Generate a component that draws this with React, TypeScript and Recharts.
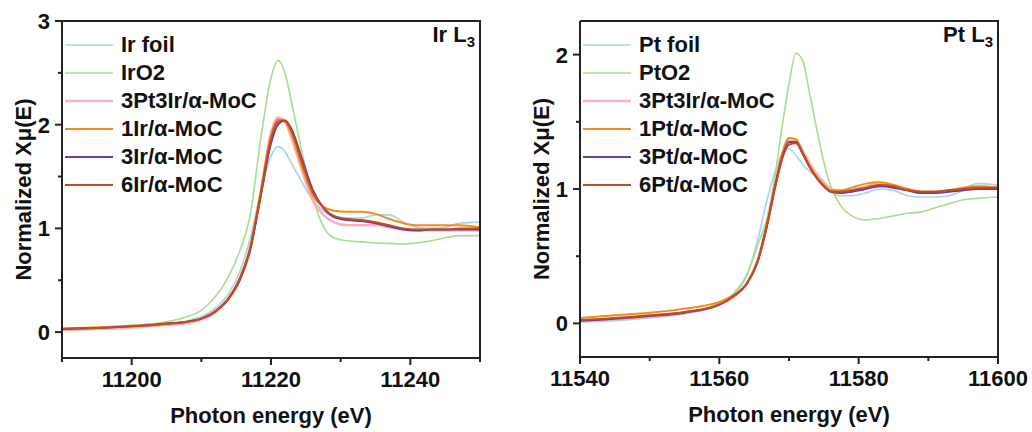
import React from "react";
import { LineChart, Line, XAxis, YAxis, Legend, Label } from "recharts";

// ---- Ir L3 edge ----
const irEnergy = [11190, 11195, 11200, 11205, 11208, 11210, 11212, 11214, 11215.5, 11217, 11218.5, 11220, 11221, 11222, 11223, 11224.5, 11226, 11227.5, 11229, 11231, 11233, 11235, 11237, 11239, 11241, 11243, 11245, 11247, 11250];
const irFoil = [0.03, 0.04, 0.055, 0.08, 0.11, 0.15, 0.23, 0.38, 0.58, 0.9, 1.35, 1.7, 1.79, 1.74, 1.62, 1.44, 1.27, 1.17, 1.12, 1.1, 1.1, 1.13, 1.13, 1.06, 1.01, 1.0, 1.01, 1.05, 1.06];
const irO2 = [0.03, 0.045, 0.065, 0.1, 0.15, 0.21, 0.34, 0.55, 0.78, 1.12, 1.85, 2.45, 2.62, 2.5, 2.2, 1.72, 1.3, 1.02, 0.91, 0.88, 0.87, 0.86, 0.855, 0.85, 0.86, 0.88, 0.91, 0.93, 0.93];
const irPt3Ir3 = [0.02, 0.03, 0.045, 0.07, 0.09, 0.12, 0.19, 0.33, 0.5, 0.8, 1.33, 1.92, 2.07, 2.03, 1.86, 1.55, 1.27, 1.13, 1.06, 1.03, 1.03, 1.03, 1.01, 0.99, 0.98, 0.98, 0.98, 0.98, 0.98];
const ir1 = [0.035, 0.045, 0.06, 0.085, 0.1, 0.13, 0.2, 0.34, 0.52, 0.82, 1.35, 1.9, 2.05, 2.03, 1.9, 1.58, 1.32, 1.21, 1.17, 1.16, 1.16, 1.14, 1.09, 1.05, 1.03, 1.03, 1.03, 1.03, 1.01];
const ir3 = [0.03, 0.04, 0.055, 0.08, 0.1, 0.13, 0.2, 0.33, 0.5, 0.79, 1.3, 1.82, 2.0, 2.04, 1.95, 1.66, 1.37, 1.2, 1.11, 1.08, 1.07, 1.05, 1.02, 0.99, 0.98, 0.99, 0.99, 0.99, 0.99];
const ir6 = [0.03, 0.04, 0.055, 0.08, 0.1, 0.13, 0.2, 0.33, 0.51, 0.8, 1.32, 1.86, 2.03, 2.04, 1.93, 1.63, 1.35, 1.2, 1.12, 1.09, 1.08, 1.06, 1.03, 1.0, 0.99, 0.99, 0.99, 1.0, 1.0];
const irNames = ["Ir foil", "IrO2", "3Pt3Ir/α-MoC", "1Ir/α-MoC", "3Ir/α-MoC", "6Ir/α-MoC"];
const irXTicks = [11190, 11200, 11210, 11220, 11230, 11240, 11250];
const irXMajor = [11200, 11220, 11240];
const irYTicks = [0, 0.5, 1, 1.5, 2, 2.5, 3];
const irYMajor = [0, 1, 2, 3];

// ---- Pt L3 edge ----
const ptEnergy = [11540, 11545, 11550, 11555, 11560, 11562, 11564, 11565.5, 11567, 11568, 11569, 11570, 11571, 11572, 11573, 11574, 11575, 11576, 11577.5, 11579, 11581, 11583, 11585, 11587, 11589, 11591, 11593, 11595, 11597, 11600];
const ptFoil = [0.01, 0.02, 0.04, 0.07, 0.14, 0.21, 0.36, 0.62, 0.95, 1.13, 1.26, 1.3, 1.25, 1.18, 1.13, 1.09, 1.04, 0.98, 0.95, 0.95, 0.97, 1.0, 0.99, 0.95, 0.94, 0.94, 0.95, 0.99, 1.04, 1.03];
const ptO2 = [0.02, 0.03, 0.05, 0.08, 0.15, 0.22, 0.37, 0.58, 0.82, 1.1, 1.46, 1.78, 2.01, 1.95, 1.7, 1.44, 1.2, 1.02, 0.87, 0.8, 0.77, 0.78, 0.8, 0.82, 0.83, 0.86, 0.89, 0.92, 0.93, 0.94];
const ptPt3Ir3 = [0.02, 0.035, 0.05, 0.08, 0.14, 0.2, 0.3, 0.47, 0.78, 1.03, 1.25, 1.36, 1.36, 1.28, 1.19, 1.11, 1.05, 1.0, 0.98, 0.99, 1.02, 1.04, 1.03, 1.0, 0.98, 0.98, 0.99, 1.0, 1.01, 1.01];
const pt1 = [0.04, 0.06, 0.08, 0.11, 0.16, 0.21, 0.3, 0.47, 0.78, 1.03, 1.26, 1.38, 1.37, 1.27, 1.17, 1.09, 1.03, 0.99, 0.99, 1.01, 1.04, 1.05, 1.03, 1.0, 0.98, 0.98, 0.99, 1.01, 1.02, 1.01];
const pt3 = [0.02, 0.035, 0.055, 0.08, 0.14, 0.2, 0.3, 0.46, 0.77, 1.02, 1.23, 1.35, 1.35, 1.26, 1.16, 1.08, 1.02, 0.98, 0.97, 0.98, 1.0, 1.02, 1.01, 0.99, 0.97, 0.97, 0.98, 0.99, 1.0, 1.0];
const pt6 = [0.025, 0.04, 0.06, 0.085, 0.14, 0.2, 0.3, 0.46, 0.76, 1.01, 1.22, 1.33, 1.34, 1.26, 1.16, 1.08, 1.02, 0.98, 0.98, 0.99, 1.01, 1.03, 1.02, 0.99, 0.98, 0.98, 0.99, 1.0, 1.01, 1.01];
const ptNames = ["Pt foil", "PtO2", "3Pt3Ir/α-MoC", "1Pt/α-MoC", "3Pt/α-MoC", "6Pt/α-MoC"];
const ptXTicks = [11540, 11550, 11560, 11570, 11580, 11590, 11600];
const ptXMajor = [11540, 11560, 11580, 11600];
const ptYTicks = [0, 0.5, 1, 1.5, 2];
const ptYMajor = [0, 1, 2];

const colors = ["#a6d2ee", "#a9dc8c", "#f8b2bf", "#f28b1e", "#6c3b9e", "#c24c1a"];
const widths = [1.6, 1.6, 2.6, 2, 2, 2];

const FONT = "Arial, 'Liberation Sans', sans-serif";
const INK = "#111";
const AXIS = "#222";

type PanelProps = {
  energy: number[];
  series: number[][];
  names: string[];
  xDomain: [number, number];
  yDomain: [number, number];
  xTicks: number[];
  xMajor: number[];
  yTicks: number[];
  yMajor: number[];
  yAxisWidth: number;
  rightMargin: number;
  xAxisHeight: number;
  edge: string;
};

const makeXTick = (major: number[]) => (props: any) => {
  const { x, y, payload } = props;
  const isMajor = major.includes(payload.value);
  return (
    <g>
      <line x1={x} y1={y} x2={x} y2={y + (isMajor ? 7 : 4)} stroke={AXIS} strokeWidth={2} />
      {isMajor && (
        <text x={x} y={y + 29} textAnchor="middle" fontSize={22} fontWeight="bold" fill={INK} fontFamily={FONT}>
          {payload.value}
        </text>
      )}
    </g>
  );
};

const makeYTick = (major: number[]) => (props: any) => {
  const { x, y, payload } = props;
  const isMajor = major.includes(payload.value);
  return (
    <g>
      <line x1={x} y1={y} x2={x - (isMajor ? 7 : 4)} y2={y} stroke={AXIS} strokeWidth={2} />
      {isMajor && (
        <text x={x - 12} y={y + 8} textAnchor="end" fontSize={22} fontWeight="bold" fill={INK} fontFamily={FONT}>
          {payload.value}
        </text>
      )}
    </g>
  );
};

function Panel(p: PanelProps) {
  const W = 516;
  const H = 432;
  const top = 21;
  const plotLeft = p.yAxisWidth;
  const plotRight = W - p.rightMargin;
  const plotBottom = H - p.xAxisHeight;
  const rows = p.energy.map((e, i) => {
    const r: any = { e };
    p.series.forEach((s, k) => (r["s" + k] = s[i]));
    return r;
  });

  const legend = () => (
    <div style={{ fontFamily: FONT, fontWeight: 700, fontSize: 22, color: INK }}>
      {p.names.map((n, i) => (
        <div key={n} style={{ display: "flex", alignItems: "center", height: 28, whiteSpace: "nowrap" }}>
          <svg width={48} height={6}>
            <line x1={0} y1={3} x2={48} y2={3} stroke={colors[i]} strokeWidth={widths[i]} />
          </svg>
          <span style={{ marginLeft: 8, lineHeight: "28px" }}>{n}</span>
        </div>
      ))}
    </div>
  );

  return (
    <div style={{ position: "relative", width: W, height: H }}>
      <LineChart width={W} height={H} data={rows} margin={{ top, right: p.rightMargin, bottom: 0, left: 0 }}>
        <XAxis
          dataKey="e"
          type="number"
          domain={p.xDomain}
          ticks={p.xTicks}
          interval={0}
          allowDataOverflow
          height={p.xAxisHeight}
          tickSize={0}
          tickMargin={0}
          tickLine={false}
          axisLine={{ stroke: AXIS, strokeWidth: 2 }}
          tick={makeXTick(p.xMajor)}
        >
          <Label
            content={() => (
              <text
                x={(plotLeft + plotRight) / 2}
                y={plotBottom + 65}
                textAnchor="middle"
                fontSize={22}
                fontWeight="bold"
                fill={INK}
                fontFamily={FONT}
              >
                Photon energy (eV)
              </text>
            )}
          />
        </XAxis>
        <YAxis
          type="number"
          domain={p.yDomain}
          ticks={p.yTicks}
          interval={0}
          allowDataOverflow
          width={p.yAxisWidth}
          tickSize={0}
          tickMargin={0}
          tickLine={false}
          axisLine={{ stroke: AXIS, strokeWidth: 2 }}
          tick={makeYTick(p.yMajor)}
        >
          <Label
            content={() => (
              <text
                transform={`translate(${plotLeft - 31}, ${(top + plotBottom) / 2}) rotate(-90)`}
                textAnchor="middle"
                fontSize={22}
                fontWeight="bold"
                fill={INK}
                fontFamily={FONT}
              >
                Normalized Xμ(E)
              </text>
            )}
          />
        </YAxis>
        <Legend
          layout="vertical"
          align="center"
          verticalAlign="middle"
          content={legend}
          wrapperStyle={{ left: plotLeft + 3, top: 31, width: "auto", height: "auto" }}
        />
        {p.series.map((_, k) => (
          <Line
            key={k}
            dataKey={"s" + k}
            name={p.names[k]}
            type="monotone"
            stroke={colors[k]}
            strokeWidth={widths[k]}
            dot={false}
            activeDot={false}
            isAnimationActive={false}
          />
        ))}
      </LineChart>
      {/* top and right edges of the plot frame */}
      <svg
        width={W}
        height={H}
        style={{ position: "absolute", left: 0, top: 0, zIndex: 10, pointerEvents: "none" }}
      >
        <polyline
          points={`${plotLeft},${top} ${plotRight},${top} ${plotRight},${plotBottom}`}
          fill="none"
          stroke={AXIS}
          strokeWidth={2}
        />
      </svg>
      <div
        style={{
          position: "absolute",
          zIndex: 11,
          top: 24,
          right: W - plotRight + 5,
          fontFamily: FONT,
          fontWeight: 700,
          fontSize: 22,
          lineHeight: "22px",
          color: INK,
          whiteSpace: "nowrap",
        }}
      >
        {p.edge} L<sub style={{ fontSize: 15, verticalAlign: "-5px" }}>3</sub>
      </div>
    </div>
  );
}

export default function App() {
  return (
    <div style={{ position: "absolute", left: 0, top: 0, width: 1032, height: 432, background: "#fff", display: "flex" }}>
      <Panel
        energy={irEnergy}
        series={[irFoil, irO2, irPt3Ir3, ir1, ir3, ir6]}
        names={irNames}
        xDomain={[11190, 11250]}
        yDomain={[-0.25, 3]}
        xTicks={irXTicks}
        xMajor={irXMajor}
        yTicks={irYTicks}
        yMajor={irYMajor}
        yAxisWidth={62}
        rightMargin={36}
        xAxisHeight={74}
        edge="Ir"
      />
      <Panel
        energy={ptEnergy}
        series={[ptFoil, ptO2, ptPt3Ir3, pt1, pt3, pt6]}
        names={ptNames}
        xDomain={[11540, 11600]}
        yDomain={[-0.25, 2.25]}
        xTicks={ptXTicks}
        xMajor={ptXMajor}
        yTicks={ptYTicks}
        yMajor={ptYMajor}
        yAxisWidth={64}
        rightMargin={34}
        xAxisHeight={75}
        edge="Pt"
      />
    </div>
  );
}
